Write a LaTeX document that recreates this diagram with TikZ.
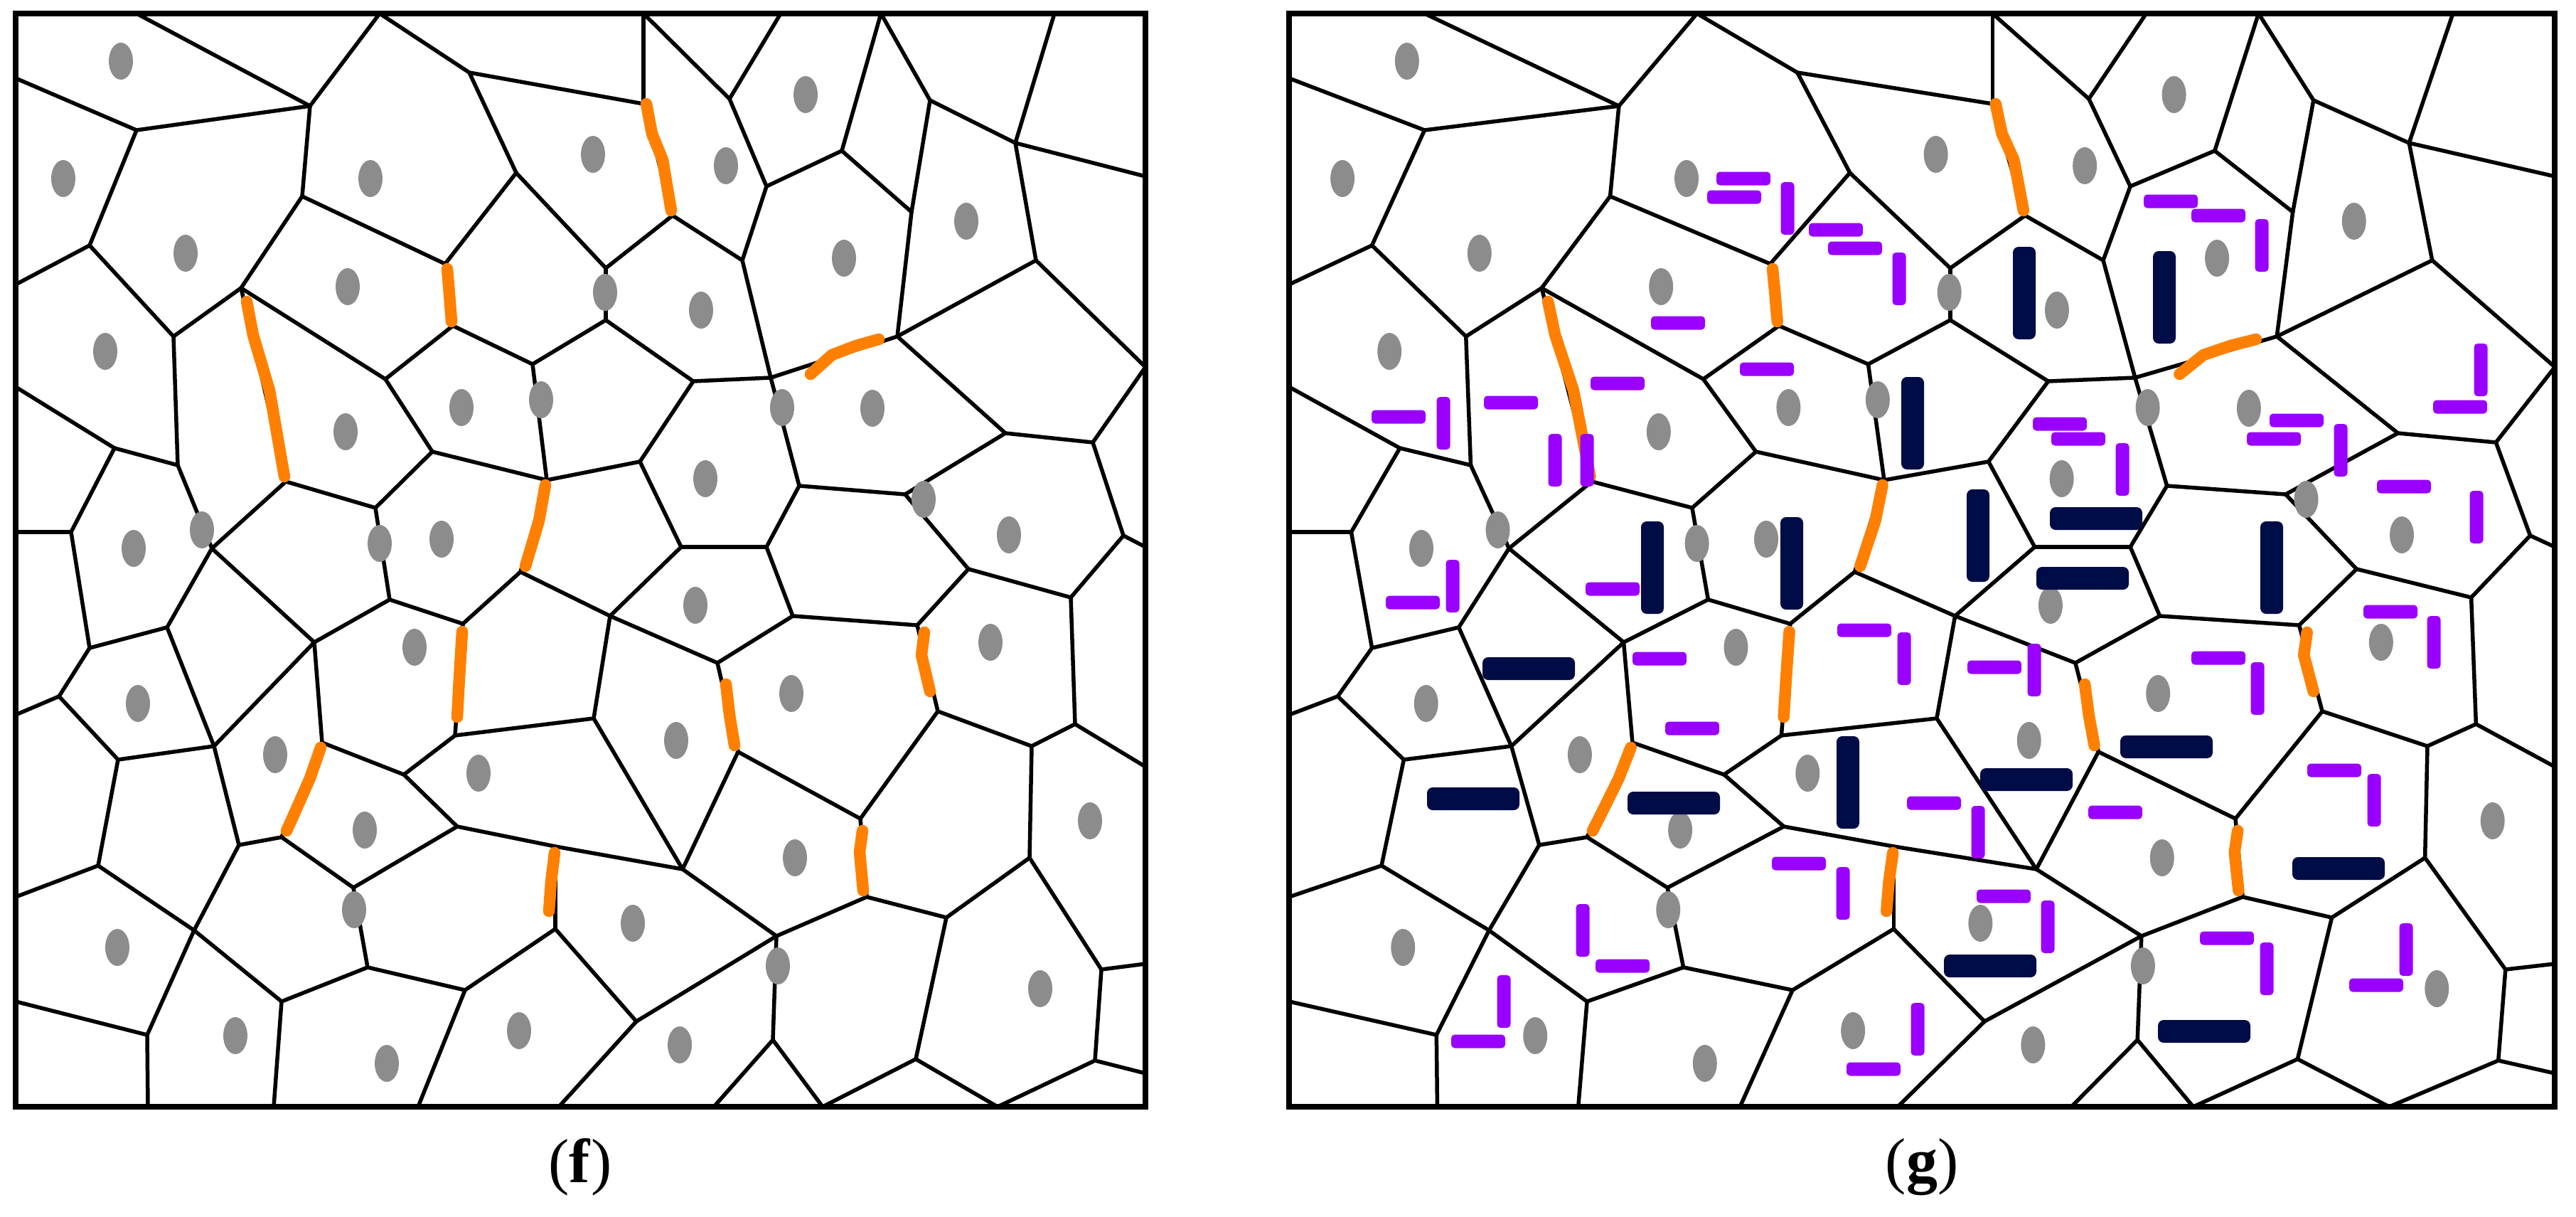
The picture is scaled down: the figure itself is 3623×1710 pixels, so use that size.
\documentclass[tikz,border=0pt]{standalone}
\usepackage{fontspec}
\setmainfont{Liberation Serif}
\usetikzlibrary{shapes.geometric}
\definecolor{dotgray}{RGB}{140,140,140}
\definecolor{segorange}{RGB}{255,128,0}
\definecolor{barpurple}{RGB}{153,0,255}
\definecolor{barnavy}{RGB}{0,12,70}
\tikzset{
  vedge/.style={line width=0.55mm, line cap=round, line join=round},
  panelframe/.style={line width=0.75mm},
  oseg/.style={segorange, line width=1.65mm, line cap=round, line join=round},
  seed/.style={ellipse, fill=dotgray, inner sep=0pt, minimum width=3.4mm, minimum height=5.2mm},
  plab/.style={font=\fontsize{25}{30}\selectfont, inner sep=0pt},
  pbar/.style={fill=barpurple, rounded corners=0.5mm},
  nbar/.style={fill=barnavy, rounded corners=0.8mm},
}
\newcommand\ph[2]{\fill[pbar] (#1-38,#2-9.5) rectangle (#1+38,#2+9.5);}
\newcommand\pv[2]{\fill[pbar] (#1-9.5,#2-37) rectangle (#1+9.5,#2+37);}
\newcommand\nh[2]{\fill[nbar] (#1-65,#2-16) rectangle (#1+65,#2+16);}
\newcommand\nv[2]{\fill[nbar] (#1-16,#2-65) rectangle (#1+16,#2+65);}
\newcommand\vorocells[1]{%
  % frame points
  \coordinate (t1) at (192,19); \coordinate (t2) at (534,19); \coordinate (t3) at (905,19);
  \coordinate (t4) at (1098,19); \coordinate (t5) at (1239,19); \coordinate (t6) at (1483,19);
  \coordinate (l1) at (22,110); \coordinate (l2) at (22,400); \coordinate (l3) at (22,544);
  \coordinate (l4) at (22,748); \coordinate (l5) at (22,1005); \coordinate (l6) at (22,1261);
  \coordinate (l7) at (22,1408);
  \coordinate (r1) at (1611,248); \coordinate (r2) at (1611,516); \coordinate (r3) at (1611,769);
  \coordinate (r4) at (1611,1078); \coordinate (r5) at (1611,1355); \coordinate (r6) at (1611,1509);
  \coordinate (b1) at (208,1556); \coordinate (b2) at (385,1556); \coordinate (b3) at (588,1556);
  \coordinate (b4) at (786,1556); \coordinate (b5) at (1004,1556); \coordinate (b6) at (1157,1556);
  \coordinate (b7) at (1403,1556);
  % interior vertices
  \coordinate (A) at (436,149); \coordinate (B) at (660,102); \coordinate (C) at (192,183);
  \coordinate (D) at (425,276); \coordinate (E) at (126,345); \coordinate (F) at (244,473);
  \coordinate (G) at (339,405); \coordinate (H) at (626,371); \coordinate (I) at (726,243);
  \coordinate (J) at (852,377); \coordinate (K) at (637,458); \coordinate (L) at (402,677);
  \coordinate (M) at (542,533); \coordinate (N) at (749,512); \coordinate (O) at (852,450);
  \coordinate (P) at (769,675); \coordinate (Q) at (250,654); \coordinate (R) at (161,630);
  \coordinate (S) at (100,748); \coordinate (T) at (298,771); \coordinate (U) at (528,714);
  \coordinate (V) at (608,635);
  \coordinate (W) at (905,146); \coordinate (X1) at (946,303); \coordinate (Y1) at (1026,139);
  \coordinate (Z1) at (1078,262); \coordinate (AA) at (1184,212); \coordinate (AB) at (1308,141);
  \coordinate (AC) at (1282,298); \coordinate (AD) at (1262,473); \coordinate (AE) at (1428,201);
  \coordinate (AF) at (1457,366); \coordinate (AG) at (1044,366); \coordinate (AH) at (1084,531);
  \coordinate (AI) at (975,536); \coordinate (AJ) at (1414,609); \coordinate (AK) at (1537,622);
  \coordinate (AL) at (1580,753); \coordinate (AM) at (900,649); \coordinate (AN) at (958,769);
  \coordinate (AO) at (1078,769); \coordinate (AP) at (1124,683); \coordinate (AQ) at (1273,695);
  \coordinate (AR) at (1362,800);
  \coordinate (BA) at (126,911); \coordinate (BB) at (235,882); \coordinate (BC) at (83,979);
  \coordinate (BD) at (301,1049); \coordinate (BE) at (166,1068); \coordinate (BF) at (442,903);
  \coordinate (BG) at (548,843); \coordinate (BH) at (453,1044); \coordinate (BI) at (396,1177);
  \coordinate (BJ) at (651,877); \coordinate (BK) at (640,1034); \coordinate (BL) at (732,804);
  \coordinate (BM) at (858,866); \coordinate (BN) at (835,1010); \coordinate (BO) at (568,1089);
  \coordinate (BP) at (643,1162); \coordinate (BQ) at (781,1190); \coordinate (BR) at (781,1306);
  \coordinate (BS) at (336,1188); \coordinate (BT) at (497,1248); \coordinate (BU) at (517,1360);
  \coordinate (BV) at (138,1217); \coordinate (BW) at (273,1308); \coordinate (BX) at (396,1408);
  \coordinate (BY) at (654,1392); \coordinate (BZ) at (895,1436); \coordinate (CA) at (207,1455);
  \coordinate (CB) at (1009,932); \coordinate (CC) at (1115,866); \coordinate (CD) at (1290,879);
  \coordinate (CE) at (1506,840); \coordinate (CF) at (1512,1018); \coordinate (CG) at (1319,1000);
  \coordinate (CH) at (1451,1049); \coordinate (CI) at (1038,1057); \coordinate (CJ) at (1210,1151);
  \coordinate (CK) at (1219,1261); \coordinate (CL) at (1448,1206); \coordinate (CM) at (1331,1290);
  \coordinate (CN) at (1549,1363); \coordinate (CO) at (1540,1491); \coordinate (CP) at (1288,1489);
  \coordinate (CQ) at (1087,1462); \coordinate (CR) at (1092,1316); \coordinate (CS) at (960,1222);
  % cell edges
  \foreach \a/\b in {t1/A, t2/A, t2/B, B/W, l1/C, C/A, A/D, C/E, E/l2, E/F, F/G, G/D, D/H,
    B/I, I/H, I/J, J/X1, G/M, K/M, K/N, J/O, O/N, O/AI, N/P, F/Q, l3/R, R/Q, R/S, S/l4,
    S/BA, Q/T, T/L, L/U, M/V, V/U, V/P, P/AM, U/BG, T/BB, T/BF,
    t3/W, t3/Y1, t4/Y1, Y1/Z1, Z1/AA, Z1/AG, AA/t5, t5/AB, AA/AC, AB/AC, AC/AD, AB/AE,
    AE/t6, AE/r1, AE/AF, AF/AD, AF/r2, X1/AG, AG/AH, AI/AH, AH/AD, AD/AJ, AJ/AK, AK/r2,
    AK/AL, AL/r3, AL/CE, AI/AM, AM/AN, AN/AO, AH/AP, AP/AO, AP/AQ, AJ/AQ, AQ/AR,
    BA/BB, BA/BC, BC/l5, BB/BD, BC/BE, BE/BD, BF/BG, BF/BD, BF/BH, BG/BJ, BL/BJ, BL/BM,
    BM/AN, BM/CB, BM/BN, BK/BN, BN/CS, BH/BO, BK/BO, BO/BP, BP/BQ, BQ/CS, BD/BS, BS/BI,
    BI/BT, BP/BT, BT/BU, BE/BV, BV/l6, BV/BW, BS/BW, BW/BX, BX/BU, BU/BY, BR/BY, BR/BZ,
    BW/CA, l7/CA, CA/b1, BX/b2, BY/b3, BZ/b4, BZ/CR,
    AO/CC, CC/CB, CC/CD, AR/CD, AR/CE, CE/CF, CG/CH, CF/CH, CF/r4, CI/CJ, CG/CJ, CH/CL,
    CL/CM, CK/CM, CL/CN, CN/r5, CN/CO, CO/r6, CO/b7, CP/b7, CM/CP, CP/b6, CQ/b6, CQ/b5,
    CQ/CR, CK/CR, CR/CS, CI/CS,
    W/X1, H/K, G/L, P/BL, BH/BI, BJ/BK, BQ/BR, CB/CI, CD/CG, CJ/CK}
    {\draw[vedge] (\a) -- (\b);}
  % highlighted (orange) boundaries
  \draw[oseg] (909,146) -- (917,188) -- (932,225) -- (944,296);
  \draw[oseg] (629,378) -- (632,413) -- (635,452);
  \draw[oseg] (347,424) -- (356,471) -- (379,549) -- (400,670);
  \draw[oseg] (1140,526) -- (1170,499) -- (1204,486) -- (1236,477);
  \draw[oseg] (767,682) -- (758,732) -- (739,796);
  \draw[oseg] (451,1051) -- (436,1094) -- (413,1146) -- (403,1168);
  \draw[oseg] (650,888) -- (646,953) -- (643,1008);
  \draw[oseg] (780,1199) -- (775,1240) -- (772,1281);
  \draw[oseg] (1021,962) -- (1026,1005) -- (1033,1048);
  \draw[oseg] (1300,889) -- (1296,921) -- (1308,972);
  \draw[oseg] (1213,1168) -- (1209,1198) -- (1214,1252);
  % seeds
  \foreach \x/\y [count=\i] in {170/86, 89/251, 261/356, 521/251, 834/217, 489/403, 851/411,
    148/494, 486/607, 649/573, 761/562, 284/745, 188/771, 534/764, 621/758, 1133/133,
    1021/233, 1359/311, 1187/363, 986/436, 1100/573, 1227/574, 992/673, 1299/702,
    1419/752, 194/989, 387/1061, 583/910, 673/1087, 513/1167, 498/1279, 165/1332,
    331/1456, 544/1495, 730/1449, 978/851, 1393/903, 1113/975, 951/1041, 1533/1154,
    1118/1206, 890/1298, 1094/1358, 1463/1390, 956/1469}
    {\node[seed] (#1seed\i) at (\x,\y) {};}
  \draw[panelframe] (22,19) rectangle (1611,1556);
}
\begin{document}
\begin{tikzpicture}[x=0.1mm, y=-0.1mm]
\useasboundingbox (0,0) rectangle (3623,1710);
\begin{scope}
  \vorocells{f}
\end{scope}
\begin{scope}[shift={(1788.4,0)}, xscale=1.1202]
  \vorocells{g}
\end{scope}
% purple bars (panel g)
\ph{2452}{251} \ph{2439}{277} \pv{2514}{293} \ph{2582}{323} \ph{2609}{349} \pv{2671}{392}
\ph{2360}{454} \ph{2485}{519} \ph{2275}{539} \ph{2125}{566} \ph{1967}{586} \pv{2030}{595}
\pv{2187}{647} \pv{2232}{647} \pv{2043}{824} \ph{1987}{847} \ph{2268}{828} \ph{2334}{926}
\pv{2678}{926} \ph{2622}{886} \ph{2380}{1024} \ph{2530}{1214} \pv{2592}{1256} \pv{2226}{1308}
\ph{2282}{1358} \pv{2115}{1408} \ph{2079}{1464} \ph{2635}{1503} \ph{3053}{283} \ph{3120}{303}
\pv{3181}{345} \pv{3489}{520} \ph{3460}{572} \ph{2897}{596} \ph{2923}{617} \pv{2985}{660}
\ph{3230}{591} \ph{3198}{617} \pv{3292}{633} \ph{3381}{684} \pv{3483}{727} \ph{3362}{860}
\pv{3423}{903} \pv{2861}{942} \ph{2805}{938} \ph{3120}{925} \pv{3175}{968} \ph{3283}{1083}
\pv{3339}{1125} \ph{2720}{1129} \pv{2782}{1170} \ph{2975}{1142} \ph{2818}{1260} \pv{2880}{1303}
\ph{3132}{1319} \pv{3188}{1362} \pv{3384}{1335} \ph{3342}{1385} \pv{2697}{1447}
% navy bars (panel g)
\nv{2847}{412} \nv{3044}{418} \nv{2690}{595} \nh{2948}{729} \nv{2782}{753} \nv{2324}{798}
\nv{2520}{792} \nh{2150}{940} \nh{2072}{1123} \nh{2354}{1129} \nv{2599}{1100} \nh{2929}{813}
\nv{3195}{798} \nh{3047}{1050} \nh{2850}{1096} \nh{3289}{1221} \nh{2799}{1358} \nh{3100}{1450}
% captions
\node[plab] (capf) at (816,1641) {(\textbf{f})};
\node[plab] (capg) at (2703,1641) {(\textbf{g})};
\end{tikzpicture}
\end{document}
